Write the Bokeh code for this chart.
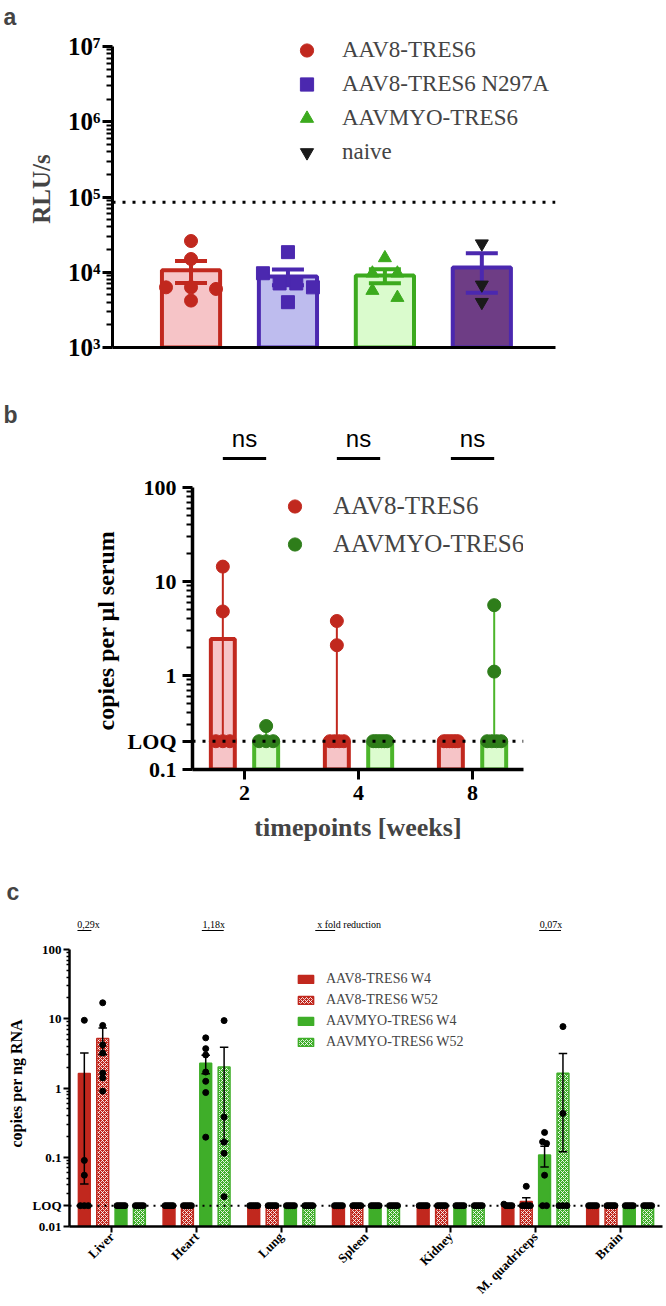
import numpy as np
from bokeh.plotting import figure
from bokeh.layouts import column
from bokeh.models import (Range1d, FixedTicker, CustomJSTickFormatter, Legend, LegendItem, Span, Title)
from bokeh.core.properties import value
from bokeh.embed import file_html
from bokeh.resources import INLINE

SERIF = "Liberation Serif"
SANS = "Liberation Sans"

# ---------------- panel a data ----------------
a_groups = ["AAV8-TRES6", "AAV8-TRES6 N297A", "AAVMYO-TRES6", "naive"]
a_aav8 = [26000, 15000, 6300, 6300, 6000, 4200]
a_n297a = [18500, 9700, 7100, 7100, 6300, 4000]
a_myo = [15500, 9700, 9700, 5700, 4600]
a_naive = [24000, 6800, 4000]
a_cutoff = 85000
a_ticks = [1e3, 1e4, 1e5, 1e6, 1e7]
a_tick_labels = ["10³", "10⁴", "10⁵", "10⁶", "10⁷"]

# ---------------- panel b data ----------------
b_weeks = ["2", "4", "8"]
b_series = ["AAV8-TRES6", "AAVMYO-TRES6"]
b_aav8_pts = [[14.4, 4.8, 0.2, 0.2, 0.2],
              [3.8, 2.1, 0.2, 0.2, 0.2, 0.2],
              [0.2, 0.2, 0.2, 0.2, 0.2, 0.2]]
b_myo_pts = [[0.29, 0.2, 0.2, 0.2],
             [0.2, 0.2, 0.2, 0.2, 0.2, 0.2],
             [5.6, 1.1, 0.2, 0.2, 0.2, 0.2]]
b_aav8_bar = [2.45, 0.2, 0.2]
b_myo_bar = [0.2, 0.2, 0.2]
b_loq = 0.2
b_sig = ["ns", "ns", "ns"]
b_ticks = [0.1, 0.2, 1, 10, 100]
b_tick_labels = ["0.1", "LOQ", "1", "10", "100"]

# ---------------- panel c data ----------------
c_tissues = ["Liver", "Heart", "Lung", "Spleen", "Kidney", "M. quadriceps", "Brain"]
c_series = ["AAV8-TRES6 W4", "AAV8-TRES6 W52", "AAVMYO-TRES6 W4", "AAVMYO-TRES6 W52"]
c_aav8_w4 = [[9.5, 0.09, 0.055, 0.02, 0.02, 0.02],
             [0.02, 0.02, 0.02, 0.02, 0.02],
             [0.02, 0.02, 0.02, 0.02, 0.02],
             [0.02, 0.02, 0.02, 0.02, 0.02],
             [0.02, 0.02, 0.02, 0.02, 0.02],
             [0.021, 0.02, 0.02, 0.02, 0.02],
             [0.02, 0.02, 0.02, 0.02, 0.02]]
c_aav8_w52 = [[17.0, 8.0, 4.2, 3.2, 1.65, 1.4, 0.9],
              [0.02, 0.02, 0.02, 0.02, 0.02],
              [0.02, 0.02, 0.02, 0.02, 0.02],
              [0.02, 0.02, 0.02, 0.02, 0.02],
              [0.02, 0.02, 0.02, 0.02, 0.02],
              [0.038, 0.02, 0.02, 0.02, 0.02, 0.02],
              [0.02, 0.02, 0.02, 0.02, 0.02]]
c_myo_w4 = [[0.02, 0.02, 0.02, 0.02, 0.02],
            [5.3, 3.7, 3.0, 1.7, 1.25, 0.86, 0.195],
            [0.02, 0.02, 0.02, 0.02, 0.02],
            [0.02, 0.02, 0.02, 0.02, 0.02],
            [0.02, 0.02, 0.02, 0.02, 0.02],
            [0.228, 0.167, 0.158, 0.055, 0.02, 0.02],
            [0.02, 0.02, 0.02, 0.02, 0.02]]
c_myo_w52 = [[0.02, 0.02, 0.02, 0.02, 0.02],
             [9.4, 0.38, 0.165, 0.114, 0.027],
             [0.02, 0.02, 0.02, 0.02, 0.02],
             [0.02, 0.02, 0.02, 0.02, 0.02],
             [0.02, 0.02, 0.02, 0.02, 0.02],
             [7.7, 0.43, 0.02, 0.02, 0.02],
             [0.02, 0.02, 0.02, 0.02, 0.02]]
c_loq = 0.02
c_fold = ["0,29x", "1,18x", "x fold reduction", "0,07x"]
c_ticks = [0.01, 0.02, 0.1, 1, 10, 100]
c_tick_labels = ["0.01", "LOQ", "0.1", "1", "10", "100"]

W = 664


def tick_fmt(ticks, labels):
    return CustomJSTickFormatter(args=dict(t=list(ticks), l=list(labels)), code="""
for (let i = 0; i < t.length; i++) {
  if (Math.abs(tick - t[i]) <= 1e-9 * Math.max(1, Math.abs(t[i]))) return l[i];
}
return "";""")


def minor_log(lo_exp, hi_exp):
    return [k * 10.0 ** e for e in range(lo_exp, hi_exp) for k in range(2, 10)]


def swarm(vals, px_dec, d, step, maxhalf):
    order = sorted(range(len(vals)), key=lambda i: -vals[i])
    offs = [0.0] * len(vals)
    clusters = []
    for i in order:
        ypx = np.log10(vals[i]) * px_dec
        if clusters and abs(clusters[-1][-1][1] - ypx) < d * 0.8:
            clusters[-1].append((i, ypx))
        else:
            clusters.append([(i, ypx)])
    for c in clusters:
        n = len(c)
        if n == 1:
            continue
        w = min((n - 1) * step / 2.0, maxhalf)
        for k, (i, _) in enumerate(c):
            offs[i] = -w + 2 * w * k / (n - 1)
    return offs


def mean_sem(v):
    v = np.asarray(v, float)
    m = v.mean()
    s = v.std(ddof=1) / np.sqrt(len(v)) if len(v) > 1 else 0.0
    return m, s


def base_fig(height, xr, yr, left, right, top, bottom, letter, letter_x):
    p = figure(width=W, height=height, x_range=xr, y_range=yr, y_axis_type="log",
               output_backend="svg", toolbar_location=None,
               min_border_left=left, min_border_right=right,
               min_border_top=top, min_border_bottom=bottom)
    p.frame_align = False
    p.xgrid.visible = False
    p.ygrid.visible = False
    p.outline_line_color = None
    p.background_fill_color = "white"
    p.border_fill_color = "white"
    p.title.text = letter
    p.title.align = "left"
    p.title.offset = letter_x - left
    p.title.standoff = 1
    p.title.text_font = SANS
    p.title.text_font_style = "bold"
    p.title.text_font_size = "23px"
    return p


def style_axis(ax, lw, mt, nt, mw, nw, lab_px, title_px, lab_standoff, title_standoff):
    ax.axis_line_width = lw
    ax.major_tick_out = mt
    ax.major_tick_in = 0
    ax.minor_tick_out = nt
    ax.minor_tick_in = 0
    ax.major_tick_line_width = mw
    ax.minor_tick_line_width = nw
    ax.major_label_text_font = SERIF
    ax.major_label_text_font_style = "bold"
    ax.major_label_text_font_size = lab_px
    ax.major_label_text_color = "black"
    ax.major_label_standoff = lab_standoff
    ax.axis_label_text_font = SERIF
    ax.axis_label_text_font_style = "bold"
    ax.axis_label_text_font_size = title_px
    ax.axis_label_standoff = title_standoff


def y_title(p, text, size, offset, standoff):
    # vertical title on the left; offset = distance of its start above the frame bottom
    p.add_layout(Title(text=text, align="left", offset=offset, standoff=standoff,
                       text_font=SERIF, text_font_style="bold", text_font_size=size,
                       text_color="black"), "left")


# ======================= panel a =======================
# frame: x 112..555, y 30..347 ; 10^7 at 46, 10^3 at 347
a_pxd = 301 / 4.0
a_top = 7 + 16 / a_pxd
pa = base_fig(370, Range1d(-0.81, 3.76), Range1d(1e3, 10 ** a_top), 112, 109, 30, 23, "a", 3)
a_pxu = 443 / 4.57
a_line = ["#c1281e", "#4b28af", "#3caa1e", "#4b28af"]
a_fill = ["#f6c4c7", "#bebcee", "#dafbcd", "#6e3d85"]
a_pt = ["#c1281e", "#4b28af", "#3caa1e", "#1a1a1a"]
a_mark = ["circle", "square", "triangle", "inverted_triangle"]
a_sets = [a_aav8, a_n297a, a_myo, a_naive]
a_means, a_sems = zip(*[mean_sem(v) for v in a_sets])
xs = list(range(len(a_groups)))
pa.vbar(x=xs, top=list(a_means), bottom=a_ticks[0], width=0.6,
        fill_color=a_fill, line_color=a_line, line_width=4)
cap = 0.165
lo = [m - s for m, s in zip(a_means, a_sems)]
hi = [m + s for m, s in zip(a_means, a_sems)]
pa.segment(x0=xs, y0=lo, x1=xs, y1=hi, line_color=a_line, line_width=4)
pa.segment(x0=[x - cap for x in xs], y0=hi, x1=[x + cap for x in xs], y1=hi, line_color=a_line, line_width=4)
pa.segment(x0=[x - cap for x in xs], y0=lo, x1=[x + cap for x in xs], y1=lo, line_color=a_line, line_width=4)
a_items = []
for i, vals in enumerate(a_sets):
    offs = swarm(vals, a_pxd, 13, 25, 25)
    r = pa.scatter(x=[i + o / a_pxu for o in offs], y=vals, marker=a_mark[i], size=13,
                   fill_color=a_pt[i], line_color=a_pt[i])
    a_items.append(LegendItem(label=a_groups[i], renderers=[r]))
pa.add_layout(Span(location=a_cutoff, dimension="width", line_color="black",
                   line_width=3, line_dash="3 7"))
leg_a = Legend(items=a_items, location=(178, 178), label_text_font=SERIF,
               label_text_font_size="23px", glyph_width=33, glyph_height=34, label_height=34,
               spacing=0, padding=0, margin=0, border_line_color=None,
               background_fill_alpha=0, label_standoff=19)
pa.add_layout(leg_a)
pa.yaxis.ticker = FixedTicker(ticks=a_ticks, minor_ticks=minor_log(3, 7))
pa.yaxis.formatter = tick_fmt(a_ticks, a_tick_labels)
pa.yaxis.bounds = (a_ticks[0], a_ticks[-1])
pa.yaxis.axis_label = "RLU/s"
pa.xaxis.ticker = FixedTicker(ticks=[])
pa.xaxis.axis_line_width = 3
pa.xaxis.major_label_text_font_size = "0px"
style_axis(pa.yaxis[0], 3, 10, 6, 3, 2, "25px", "25px", 2, 10)

# ======================= panel b =======================
# frame: x 192..523, y 428..769 ; 100 at 487, 0.1 at 769
b_xr = Range1d(-0.456, 2.447)
b_pxd = 282 / 3.0
b_top = 2 + 59 / b_pxd
pb = base_fig(492, b_xr, Range1d(0.1, 10 ** b_top), 192, 141, 58, 93, "b", 3)
b_pxu = 331 / 2.903
b_cols = {"line": ["#c1281e", "#4cb52b"], "fill": ["#f6c4c7", "#dcfccf"],
          "pt": ["#c1281e", "#2e7d1a"], "err": ["#c1281e", "#4cb52b"]}
b_off = [-0.19, 0.19]
b_items = []
for s, (pts_all, bars) in enumerate([(b_aav8_pts, b_aav8_bar), (b_myo_pts, b_myo_bar)]):
    bx = [i + b_off[s] for i in range(len(b_weeks))]
    pb.vbar(x=bx, top=bars, bottom=b_ticks[0], width=0.21, fill_color=b_cols["fill"][s],
            line_color=b_cols["line"][s], line_width=4)
    y0 = [min(v) for v in pts_all]
    y1 = [max(v) for v in pts_all]
    pb.segment(x0=bx, y0=y0, x1=bx, y1=y1, line_color=b_cols["err"][s], line_width=2)
    px, py = [], []
    for i, vals in enumerate(pts_all):
        offs = swarm(vals, b_pxd, 13, 9, 7)
        px += [bx[i] + o / b_pxu for o in offs]
        py += vals
    r = pb.scatter(x=px, y=py, marker="circle", size=13, fill_color=b_cols["pt"][s],
                   line_color=b_cols["pt"][s])
    b_items.append(LegendItem(label=b_series[s], renderers=[r]))
pb.add_layout(Span(location=b_loq, dimension="width", line_color="black",
                   line_width=3, line_dash="3 7"))
# significance marks above the bars
sig_x = list(range(len(b_weeks)))
sig_text_y = 10 ** (2 + 49 / b_pxd)
sig_line_y = 10 ** (2 + 29 / b_pxd)
pb.text(x=sig_x, y=[sig_text_y] * len(sig_x), text=b_sig, text_align="center",
        text_baseline="middle", text_font=value(SANS), text_font_size="24px",
        text_color="black")
pb.segment(x0=[x - 0.19 for x in sig_x], y0=[sig_line_y] * len(sig_x),
           x1=[x + 0.19 for x in sig_x], y1=[sig_line_y] * len(sig_x),
           line_color="black", line_width=3)
leg_b = Legend(items=b_items, location=(86, 206), label_text_font=SERIF,
               label_text_font_size="25px", glyph_width=33, glyph_height=38, label_height=38,
               spacing=0, padding=0, margin=0, border_line_color=None,
               background_fill_alpha=0, label_standoff=22)
pb.add_layout(leg_b)
pb.yaxis.ticker = FixedTicker(ticks=b_ticks, minor_ticks=[k * 0.1 for k in range(3, 10)] + minor_log(0, 2))
pb.yaxis.formatter = tick_fmt(b_ticks, b_tick_labels)
pb.yaxis.bounds = (b_ticks[0], b_ticks[-1])
pb.xaxis.ticker = FixedTicker(ticks=[0, 1, 2])
pb.xaxis.formatter = tick_fmt([0, 1, 2], b_weeks)
pb.xaxis.axis_label = "timepoints [weeks]"
for ax in [pb.xaxis[0], pb.yaxis[0]]:
    style_axis(ax, 3.5, 10, 6, 3, 2, "22px", "26px", 6, 10)
y_title(pb, "copies per µl serum", "24px", 39, 12)

# ======================= panel c =======================
# frame: x 66..662, y 905..1226 ; 100 at 949, 0.01 at 1226
c_xr = Range1d(-0.5, 6.5)
c_pxd = 277 / 4.0
c_top = 2 + 44 / c_pxd
pc = base_fig(442, c_xr, Range1d(0.01, 10 ** c_top), 66, 2, 43, 78, "c", 3)
c_pxu = 596 / 7.0
c_sets = [c_aav8_w4, c_aav8_w52, c_myo_w4, c_myo_w52]
c_color = ["#c1281e", "#c1281e", "#3fae29", "#3fae29"]
c_hatch = [None, "diagonal_cross", None, "diagonal_cross"]
c_off = [-0.325, -0.108, 0.108, 0.325]
c_items = []
ccap = 0.05
allx, ally = [], []
for s, sets in enumerate(c_sets):
    bx = [i + c_off[s] for i in range(len(c_tissues))]
    ms = [mean_sem(v) for v in sets]
    kw = dict(fill_color=c_color[s], line_color=c_color[s], line_width=1.5)
    if c_hatch[s]:
        kw.update(hatch_pattern=c_hatch[s], hatch_color="white", hatch_scale=4,
                  hatch_weight=1, hatch_alpha=0.85)
    r = pc.vbar(x=bx, top=[m for m, _ in ms], bottom=c_ticks[0], width=0.14, **kw)
    c_items.append(LegendItem(label=c_series[s], renderers=[r]))
    ex = [x for x, (m, e) in zip(bx, ms) if e > 1e-9]
    elo = [m - e for (m, e) in ms if e > 1e-9]
    ehi = [m + e for (m, e) in ms if e > 1e-9]
    pc.segment(x0=ex, y0=elo, x1=ex, y1=ehi, line_color="black", line_width=1.5)
    pc.segment(x0=[x - ccap for x in ex], y0=ehi, x1=[x + ccap for x in ex], y1=ehi,
               line_color="black", line_width=1.5)
    pc.segment(x0=[x - ccap for x in ex], y0=elo, x1=[x + ccap for x in ex], y1=elo,
               line_color="black", line_width=1.5)
    for i, vals in enumerate(sets):
        offs = swarm(vals, c_pxd, 6, 4, 4)
        allx += [bx[i] + o / c_pxu for o in offs]
        ally += vals
pc.scatter(x=allx, y=ally, marker="circle", size=6, fill_color="black", line_color="black")
pc.add_layout(Span(location=c_loq, dimension="width", line_color="black",
                   line_width=2, line_dash="2 5"))
# fold-change annotations (positions in screen px from frame left)
fold_sx = [19, 145, 249, 484]
fold_align = ["center", "center", "left", "center"]
fold_ul = [(8, 22), (133, 155), (247, 267), (472, 494)]
to_dx = lambda sx: sx / c_pxu + c_xr.start
fold_y = 10 ** (2 + 25 / c_pxd)
ul_y = 10 ** (2 + 19 / c_pxd)
for t, sx, al in zip(c_fold, fold_sx, fold_align):
    pc.text(x=[to_dx(sx)], y=[fold_y], text=[t], text_align=al, text_baseline="middle",
            text_font=value(SERIF), text_font_size="10px", text_color="black")
pc.segment(x0=[to_dx(u0) for u0, _ in fold_ul], y0=[ul_y] * len(fold_ul),
           x1=[to_dx(u1) for _, u1 in fold_ul], y1=[ul_y] * len(fold_ul),
           line_color="black", line_width=1.2)
leg_c = Legend(items=c_items, location=(227, 174), label_text_font=SERIF,
               label_text_font_size="14px", glyph_width=19, glyph_height=10, label_height=21,
               spacing=0, padding=0, margin=0, border_line_color=None,
               background_fill_alpha=0, label_standoff=11)
pc.add_layout(leg_c)
pc.yaxis.ticker = FixedTicker(ticks=c_ticks, minor_ticks=[k * 0.01 for k in range(3, 10)] + minor_log(-1, 2))
pc.yaxis.formatter = tick_fmt(c_ticks, c_tick_labels)
pc.yaxis.bounds = (c_ticks[0], c_ticks[-1])
pc.xaxis.ticker = FixedTicker(ticks=list(range(len(c_tissues))))
pc.xaxis.formatter = tick_fmt(list(range(len(c_tissues))), c_tissues)
pc.xaxis.major_label_orientation = np.pi / 4
for ax in [pc.xaxis[0], pc.yaxis[0]]:
    style_axis(ax, 2.5, 6, 3, 2, 1.5, "13px", "16px", 2, 12)
y_title(pc, "copies per ng RNA", "16px", 79, 10)

layout = column(pa, pb, pc)
open("out.html", "w").write(file_html(layout, INLINE))
